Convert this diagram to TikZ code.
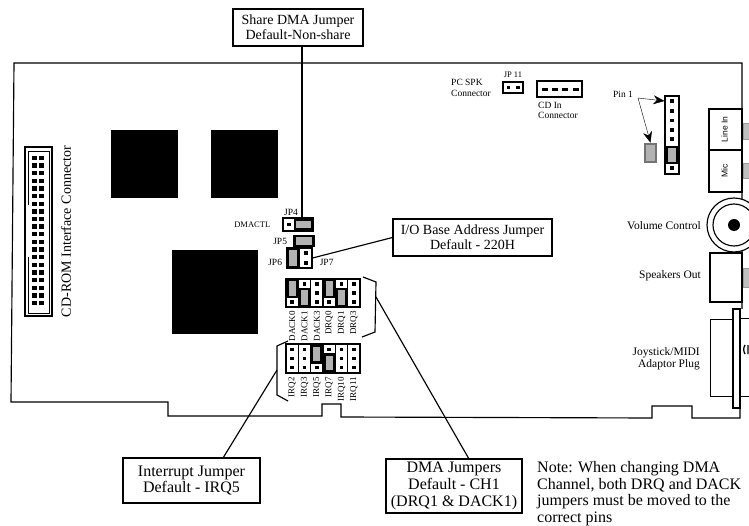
\documentclass[tikz,border=0pt]{standalone}
\usepackage{fontspec}
\setmainfont{Liberation Serif}
\setsansfont{Liberation Sans}
\usetikzlibrary{positioning,arrows.meta}
\tikzstyle{heavy} = [line width=1.15pt]
\tikzstyle{calloutbox} = [
    rectangle, draw=black, heavy, fill=white,
    align=center, inner sep=0pt,
    font=\fontsize{16}{16.7}\selectfont
]
\tikzstyle{smalllabel} = [
    inner sep=0pt, align=left,
    font=\fontsize{9.5}{10.5}\selectfont
]

\begin{document}
\begin{tikzpicture}[
        x=1pt, y=-1pt,
        part/.style n args={2}{
            rectangle, draw=black, inner sep=0pt,
            minimum width=#1, minimum height=#2
        },
        chip/.style n args={2}{
            part={#1}{#2}, fill=black
        },
        pin/.style = {
            rectangle, fill=black, inner sep=0pt,
            minimum width=3.6pt, minimum height=3.6pt
        },
        jumper/.style n args={2}{
            part={#1}{#2}, line width=2.6pt, fill=black!30
        },
        sidelabel/.style = {
            inner sep=0pt, align=right,
            font=\fontsize{11.5}{12.5}\selectfont
        },
        pinlabel/.style = {
            inner sep=0pt, rotate=90, anchor=east,
            font=\fontsize{9}{10}\selectfont
        },
        grille/.style n args={2}{
            part={#1}{#2}, draw=black!40, fill=black!25
        }
    ]
        \useasboundingbox (0,0) rectangle (749,526);
        \begin{scope}
        \clip (0,0) rectangle (749,526);

        % board
        \draw[heavy] (742,309) -- (742,63) -- (14,63) -- (11,402)
            -- (168,402) -- (168,416) -- (322,416) -- (322,404)
            -- (341,404) -- (341,417) -- (652,418) -- (652,406)
            -- (692,406) -- (692,418) -- (740,418) -- (740,408);

        % chips
        \node[chip={66pt}{67pt}] (chip1) at (144,163.5) {};
        \node[chip={66pt}{67pt}] (chip2) at (244,163.5) {};
        \node[chip={85pt}{83pt}] (chip3) at (214.5,291.5) {};

        % CD-ROM connector
        \node[part={27pt}{169pt}, heavy] (cdrom) at (38.5,231.5) {};
        \draw (28,205) -- (28,151) -- (49,151) -- (49,313) -- (28,313) -- (28,257);
        \foreach \row in {0,...,19} {
            \node[pin, minimum width=5pt, minimum height=4.4pt] (cdroml\row) at (34.5,158+7.63*\row) {};
            \node[pin, minimum width=5pt, minimum height=4.4pt] (cdromr\row) at (41.5,158+7.63*\row) {};
        }
        \node[rotate=90, inner sep=0pt, font=\fontsize{14}{15}\selectfont] (cdromlabel) at (66,231.5) {CD-ROM Interface Connector};

        % top edge connectors
        \node[part={20pt}{11pt}, heavy] (jp11) at (513,87.5) {};
        \node[pin] (jp11a) at (508.5,87.5) {};
        \node[pin] (jp11b) at (518,87.5) {};
        \node[smalllabel, font=\fontsize{8.5}{10}\selectfont] (jp11label) [above=3.5pt of jp11] {JP 11};
        \node[smalllabel] (pcspk) at (471,88) {PC SPK\\Connector};
        \draw[heavy] (582,81) -- (537,81) -- (537,97) -- (582,97) -- cycle;
        \foreach \col in {0,1,2,3} {
            \node[pin, minimum width=6pt] (cdin\col) at (545+\col*10.2,89.5) {};
        }
        \node[smalllabel] (cdinlabel) at (558,110.5) {CD In\\Connector};

        % pin 1 header
        \node[part={14pt}{78pt}, heavy] (header) at (672,135) {};
        \foreach \row/\ypos in {0/101,1/111,2/120.5,3/130,4/139,5/168} {
            \node[pin] (headerpin\row) at (672,\ypos) {};
        }
        \node[jumper={10pt}{16pt}] (headerjumper) at (672,155) {};
        \node[jumper={11pt}{18pt}, draw=black!55] (loosejumper) at (650.5,153) {};
        \node[smalllabel] (pinone) at (623,94) {Pin 1};
        \coordinate (pinfork) at (638,98);
        \draw[-{Stealth[length=11pt,width=9pt]}] (pinfork) -- (headerpin0 -| header.west);
        \draw[-{Stealth[length=11pt,width=9pt]}] (pinfork) -- (loosejumper.north);

        % back panel
        \node[part={33pt}{41pt}, heavy] (linein) at (725.5,129.5) {};
        \node[part={33pt}{42pt}, heavy] (mic) at (725.5,171) {};
        \node[rotate=90, inner sep=0pt, font=\sffamily\fontsize{8.5}{9}\selectfont] (lineinlabel) at (724.5,129.5) {Line In};
        \node[rotate=90, inner sep=0pt, font=\sffamily\fontsize{8.5}{9}\selectfont] (miclabel) at (724.5,171) {Mic};
        \node[grille={8pt}{16pt}] (lineingrille) at (747,131) {};
        \node[grille={8pt}{15pt}] (micgrille) at (747,171) {};
        \node[circle, draw=black, fill=white, heavy, minimum size=54pt, inner sep=0pt] (volume) at (734,225) {};
        \node[circle, draw=black, heavy, minimum size=42pt, inner sep=0pt] (volumeinner) at (734,225) {};
        \node[circle, fill=black, minimum size=12pt, inner sep=0pt] (volumeknob) at (734,225) {};
        \node[sidelabel, anchor=east] (volumelabel) at (701,226) {Volume Control};
        \node[part={32pt}{49pt}, heavy] (speakers) at (726,277.5) {};
        \node[grille={8pt}{19pt}] (speakersgrille) at (747,277.5) {};
        \node[sidelabel, anchor=east] (speakerslabel) at (701,276) {Speakers Out};
        \node[part={23pt}{77pt}] (joystick) at (721.5,357.5) {};
        \node[part={15pt}{78pt}] (joystickout) at (747.5,357) {};
        \node[part={7pt}{99pt}, heavy, fill=white] (joystickstrip) at (736.5,358.5) {};
        \draw[line width=1.3pt] (745,345) to[bend right=30] (745,354) (748,345) -- (748,354);
        \node[sidelabel, anchor=east] (joysticklabel) at (700,359) {Joystick/MIDI\\Adaptor Plug};

        % JP4 to JP7
        \node[part={30pt}{13pt}, heavy] (jp4) at (298,224.5) {};
        \node[pin] (jp4pin) at (289,224.5) {};
        \node[jumper={17pt}{9pt}] (jp4jumper) at (303.5,224.5) {};
        \node[smalllabel] (jp4label) at (291,212) {JP4};
        \node[smalllabel, font=\fontsize{8.5}{10}\selectfont] (dmactl) [left=12pt of jp4] {DMACTL};
        \node[jumper={19pt}{10pt}] (jp5) at (304,241) {};
        \node[smalllabel] (jp5label) [left=6pt of jp5] {JP5};
        \node[jumper={11pt}{19pt}] (jp6) at (293,258) {};
        \node[part={13pt}{20pt}, heavy] (jp7) at (305.5,258) {};
        \node[pin] (jp7a) at (306,253) {};
        \node[pin] (jp7b) at (306,263) {};
        \node[smalllabel] (jp6label) [left=4pt of jp6, yshift=-4pt] {JP6};
        \node[smalllabel] (jp7label) [right=7pt of jp7, yshift=-4pt] {JP7};

        % DMA jumpers
        \foreach \col/\lab in {0/DACK0,1/DACK1,2/DACK3,3/DRQ0,4/DRQ1,5/DRQ3} {
            \node[part={12.33pt}{28pt}, heavy] (dma\col) at (292.2+12.33*\col,293) {};
            \node[pinlabel] (dmalabel\col) at (292.2+12.33*\col,311) {\lab};
        }
        \foreach \col/\row in {0/2,1/0,2/0,2/1,2/2,3/2,4/0,5/0,5/1,5/2} {
            \node[pin] (dmapin\col\row) at (292.2+12.33*\col,284+9*\row) {};
        }
        \foreach \col/\ypos in {0/288.5,1/297.5,3/288.5,4/297.5} {
            \node[jumper={9.5pt}{17pt}] (dmajumper\col) at (292.2+12.33*\col,\ypos) {};
        }
        \draw[heavy] (363,277) -- (376,282) -- (375,332) -- (362,337);
        \coordinate (dmabracket) at (376,297);

        % IRQ jumpers
        \foreach \col/\lab in {0/IRQ2,1/IRQ3,2/IRQ5,3/IRQ7,4/IRQ10,5/IRQ11} {
            \node[part={12.33pt}{29pt}, heavy] (irq\col) at (292.2+12.33*\col,358.5) {};
            \node[pinlabel] (irqlabel\col) at (292.2+12.33*\col,377) {\lab};
        }
        \foreach \col/\row in {0/0,0/1,0/2,1/0,1/1,1/2,2/2,3/0,4/0,4/1,4/2,5/0,5/1,5/2} {
            \node[pin] (irqpin\col\row) at (292.2+12.33*\col,349.5+9*\row) {};
        }
        \foreach \col/\ypos in {2/354,3/363} {
            \node[jumper={9.5pt}{17pt}] (irqjumper\col) at (292.2+12.33*\col,\ypos) {};
        }
        \draw[heavy] (288,341) -- (277,346) -- (277,395) -- (288,401);
        \coordinate (irqbracket) at (277,370);

        % callouts
        \node[calloutbox, part={130pt}{37pt}, heavy, font=\fontsize{14}{15}\selectfont] (share) at (298,27.5) {Share DMA Jumper\\Default-Non-share};
        \node[calloutbox, part={159pt}{37pt}, heavy, font=\fontsize{14}{15}\selectfont] (iobox) at (472.5,237.5) {I/O Base Address Jumper\\Default - 220H};
        \node[calloutbox, part={137pt}{45pt}, heavy] (irqbox) at (191.5,480.5) {Interrupt Jumper\\Default - IRQ5};
        \node[calloutbox, part={136pt}{54pt}, heavy] (dmabox) at (454,486) {DMA Jumpers\\Default - CH1\\(DRQ1 \& DACK1)};
        \node[inner sep=0pt, align=left, anchor=north west, font=\fontsize{16}{16.7}\selectfont] (note) at (537,461) {Note: When changing DMA\\Channel, both DRQ and DACK\\jumpers must be moved to the\\correct pins};

        \coordinate (sharetie) at (302,218);
        \coordinate (irqtie) at (223,458);
        \coordinate (dmatie) at (469,459);
        \draw[heavy] (share.south -| sharetie) -- (sharetie);
        \draw[heavy] (iobox.west) -- (jp7.east);
        \draw[heavy] (irqbracket) -- (irqtie);
        \draw[heavy] (dmabracket) -- (dmatie);
        \end{scope}
    \end{tikzpicture}
\end{document}
